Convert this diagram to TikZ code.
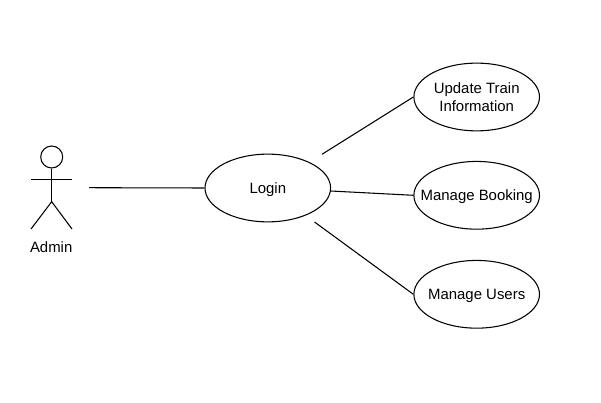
\documentclass[tikz,border=0pt]{standalone}
\usepackage{fontspec}
\setmainfont{Liberation Sans}
\usetikzlibrary{shapes.geometric}
\tikzset{
	usecase/.style={draw, ellipse, inner sep=-12pt, minimum width=94.2pt, minimum height=50.8pt, align=center, font=\fontsize{11.2}{13.3}\selectfont},
	oneline/.style={text height=10.4pt, text depth=2pt},
	actorlabel/.style={font=\fontsize{11.2}{13.3}\selectfont},
	link/.style={line width=0.8pt}
}
\begin{document}
\begin{tikzpicture}[x=0.75pt, y=-0.75pt, line width=0.8pt]
	\useasboundingbox (0,0) rectangle (601,403);
	
	% Actor
	\node[draw, circle, inner sep=0pt, minimum size=16.5pt] (head) at (51.7,157) {};
	\coordinate (hip) at (51.7,201.7);
	\coordinate (armL) at (31,179.7);
	\coordinate (armR) at (72,179.7);
	\coordinate (footL) at (31,229);
	\coordinate (footR) at (72,229);
	\draw (head.south) -- (hip);
	\draw (armL) -- (armR);
	\draw (footL) -- (hip) -- (footR);
	\node[actorlabel] (admin) at (51.2,247) {Admin};
	
	% Use cases
	\node[usecase, oneline] (login) at (267.8,188) {Login};
	\node[usecase] (update) at (476.7,97) {Update Train\\Information};
	\node[usecase, oneline] (booking) at (476.7,195.3) {Manage Booking};
	\node[usecase, oneline] (users) at (476.7,294.3) {Manage Users};
	
	% Connectors
	\coordinate (adminEnd) at (89,187.7);
	\coordinate (loginUpdate) at (322,154.3);
	\coordinate (loginBooking) at (330.6,191);
	\coordinate (loginUsers) at (314.5,222);
	\draw[link] (adminEnd) -- (login.west);
	\draw[link] (loginUpdate) -- (update.west);
	\draw[link] (loginBooking) -- (booking.west);
	\draw[link] (loginUsers) -- (users.west);
	
\end{tikzpicture}
\end{document}
